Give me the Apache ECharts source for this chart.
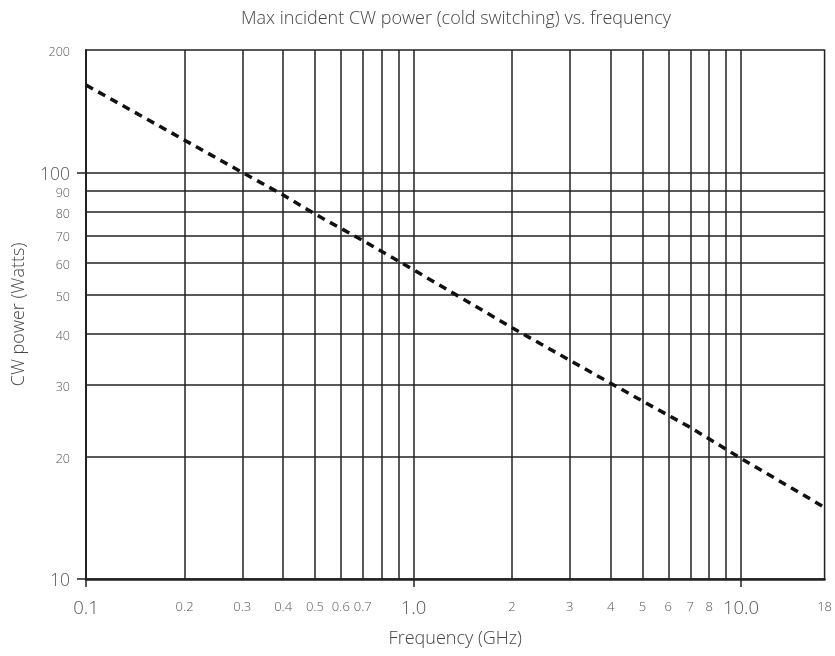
<!DOCTYPE html>
<html>
<head>
<meta charset="utf-8">
<script src="https://cdn.jsdelivr.net/npm/echarts@6/dist/echarts.min.js"></script>
<style>html,body{margin:0;padding:0;background:#fff}#c{width:835px;height:656px}</style>
</head>
<body>
<div id="c"></div>
<script>
// ---- data ----
var freqGHz = [0.1, 0.2, 0.3, 0.4, 0.5, 0.7, 1.0, 2, 3, 4, 5, 7, 10, 18];
var powerW  = [164, 120, 100, 88, 79, 68, 57.6, 41.5, 34.5, 30.3, 27.4, 23.6, 19.8, 15.0];

var xTickValues = [0.1, 0.2, 0.3, 0.4, 0.5, 0.6, 0.7, 1, 2, 3, 4, 5, 6, 7, 8, 10, 18];
var xTickLabels = ['0.1', '0.2', '0.3', '0.4', '0.5', '0.6', '0.7', '1.0', '2', '3', '4', '5', '6', '7', '8', '10.0', '18'];
var xMajor = [0.1, 1, 10];
var xGrid = [0.2, 0.3, 0.4, 0.5, 0.6, 0.7, 0.8, 0.9, 1, 2, 3, 4, 5, 6, 7, 8, 9, 10];

var yTickValues = [10, 20, 30, 40, 50, 60, 70, 80, 90, 100, 200];
var yTickLabels = ['10', '20', '30', '40', '50', '60', '70', '80', '90', '100', '200'];
var yMajor = [10, 100];
var yGrid = [20, 30, 40, 50, 60, 70, 80, 90, 100];

function lookup(vals, labels, v) {
  var best = 0, bd = Infinity;
  for (var i = 0; i < vals.length; i++) {
    var d = Math.abs(Math.log(vals[i]) - Math.log(v));
    if (d < bd) { bd = d; best = i; }
  }
  return { label: labels[best], value: vals[best] };
}
function isMajor(list, v) {
  for (var i = 0; i < list.length; i++) if (Math.abs(Math.log(list[i]) - Math.log(v)) < 1e-6) return true;
  return false;
}

var lineData = freqGHz.map(function (f, i) { return [f, powerW[i]]; });
var gridMarks = xGrid.map(function (v) { return { xAxis: v }; })
  .concat(yGrid.map(function (v) { return { yAxis: v }; }));

var chart = echarts.init(document.getElementById('c'));
var fontFam = '"Open Sans", Roboto, sans-serif';
var txtCol = '#555';
chart.setOption({
  animation: false,
  backgroundColor: '#fff',
  title: {
    text: 'Max incident CW power (cold switching) vs. frequency',
    left: 451, top: 5, textAlign: 'center',
    textStyle: { fontFamily: fontFam, fontSize: 18, fontWeight: 300, color: '#444' }
  },
  grid: {
    left: 86, right: 7, top: 50, bottom: 77,
    show: true, borderColor: '#222', borderWidth: 1.5, backgroundColor: 'transparent'
  },
  xAxis: {
    type: 'log', logBase: 10, min: 0.1, max: 18,
    name: 'Frequency (GHz)', nameLocation: 'middle', nameGap: 51,
    nameTextStyle: { fontFamily: fontFam, fontSize: 18, fontWeight: 300, color: '#444' },
    axisLine: { show: true, lineStyle: { color: '#222', width: 2.5 } },
    axisTick: { show: true, customValues: xMajor, length: 8, lineStyle: { color: '#222', width: 1.5 } },
    axisLabel: {
      customValues: xTickValues, margin: 28, verticalAlign: 'middle', color: txtCol, fontFamily: fontFam,
      formatter: function (v) {
        var r = lookup(xTickValues, xTickLabels, v);
        return isMajor(xMajor, r.value) ? '{b|' + r.label + '}' : '{s|' + r.label + '}';
      },
      rich: {
        b: { fontSize: 18.5, fontWeight: 300, color: txtCol, fontFamily: fontFam, padding: [3, 0, 0, 0] },
        s: { fontSize: 13, fontWeight: 300, color: txtCol, fontFamily: fontFam }
      }
    },
    splitLine: { show: false },
    minorTick: { show: false }, minorSplitLine: { show: false }
  },
  yAxis: {
    type: 'log', logBase: 10, min: 10, max: 200,
    name: 'CW power (Watts)', nameLocation: 'middle', nameGap: 58, nameRotate: 90,
    nameTextStyle: { fontFamily: fontFam, fontSize: 18, fontWeight: 300, color: '#444' },
    axisLine: { show: true, lineStyle: { color: '#222', width: 2 } },
    axisTick: { show: true, customValues: yMajor, length: 9, lineStyle: { color: '#222', width: 1.5 } },
    axisLabel: {
      customValues: yTickValues, margin: 16, color: txtCol, fontFamily: fontFam,
      formatter: function (v) {
        var r = lookup(yTickValues, yTickLabels, v);
        return isMajor(yMajor, r.value) ? '{b|' + r.label + '}' : '{s|' + r.label + '}';
      },
      rich: {
        b: { fontSize: 17.5, fontWeight: 300, color: txtCol, fontFamily: fontFam, padding: [5, 0, 0, 0] },
        s: { fontSize: 12.5, fontWeight: 300, color: txtCol, fontFamily: fontFam, padding: [5, 0, 0, 0] }
      }
    },
    splitLine: { show: false },
    minorTick: { show: false }, minorSplitLine: { show: false }
  },
  series: [{
    type: 'line',
    data: lineData,
    symbol: 'none',
    z: 5,
    lineStyle: { color: '#111', width: 3.5, type: [8, 6] },
    markLine: {
      silent: true, symbol: 'none', animation: false, z: 1,
      label: { show: false },
      lineStyle: { color: '#222', width: 1.5, type: 'solid' },
      emphasis: { disabled: true },
      data: gridMarks
    }
  }]
});
</script>
</body>
</html>
